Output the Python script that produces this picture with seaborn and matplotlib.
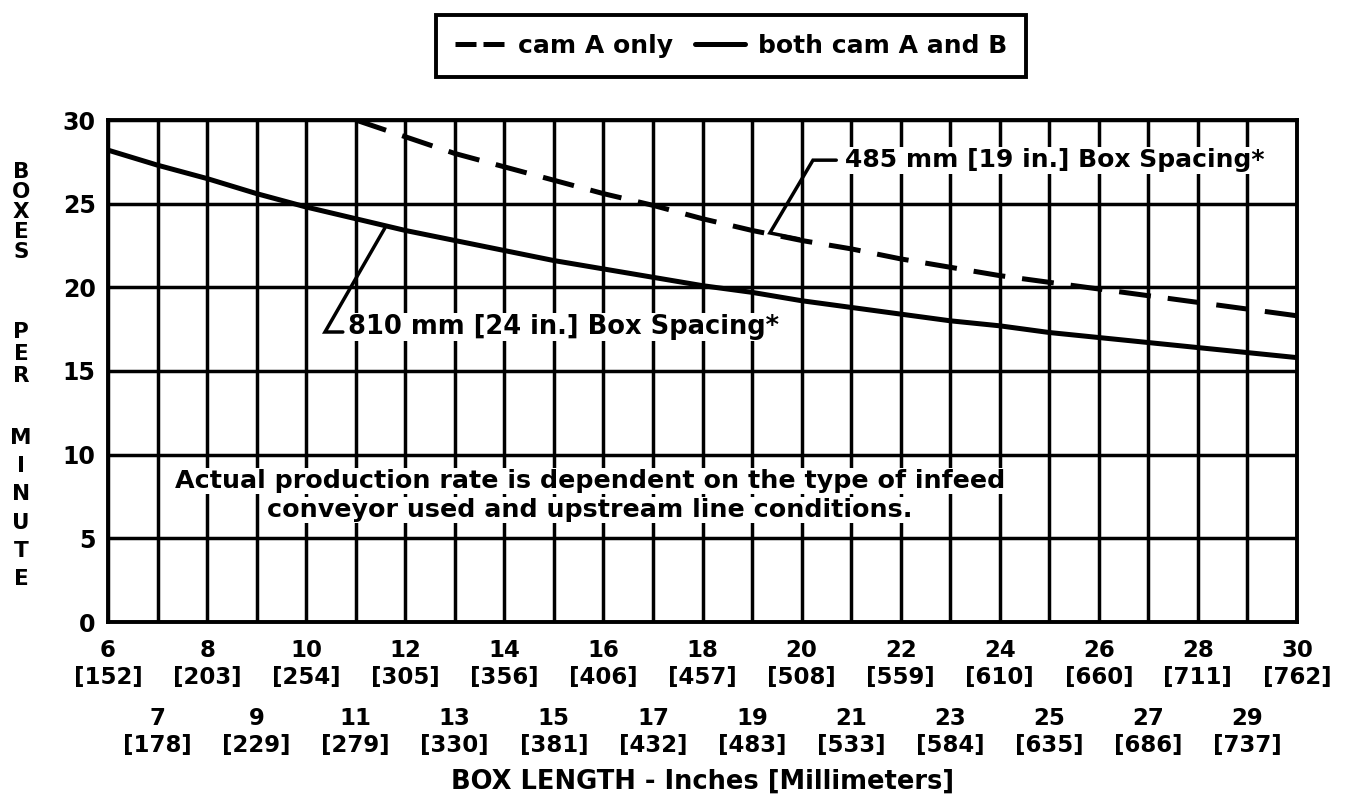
import numpy as np
import pandas as pd
import matplotlib
matplotlib.use("Agg")
import matplotlib.pyplot as plt
from matplotlib.lines import Line2D
import seaborn as sns

# ============================
# Data
# ============================
inches = list(range(6, 31))
millimeters = [152, 178, 203, 229, 254, 279, 305, 330, 356, 381, 406, 432, 457,
               483, 508, 533, 559, 584, 610, 635, 660, 686, 711, 737, 762]

both_x = list(range(6, 31))
both_rate = [28.2, 27.3, 26.5, 25.6, 24.8, 24.1, 23.4, 22.8, 22.2, 21.6, 21.1, 20.6, 20.1,
             19.7, 19.2, 18.8, 18.4, 18.0, 17.7, 17.3, 17.0, 16.7, 16.4, 16.1, 15.8]

camA_x = list(range(11, 31))
camA_rate = [30.0, 29.0, 28.0, 27.2, 26.4, 25.6, 24.9, 24.1, 23.4, 22.8,
             22.3, 21.7, 21.2, 20.7, 20.3, 19.9, 19.5, 19.1, 18.7, 18.3]

y_ticks = [0, 5, 10, 15, 20, 25, 30]

# ============================
# Style
# ============================
sns.set_style("white")
plt.rcParams['font.family'] = ['DejaVu Sans']
plt.rcParams['font.weight'] = 'bold'
plt.rcParams['text.color'] = 'black'
plt.rcParams['axes.labelcolor'] = 'black'
plt.rcParams['xtick.color'] = 'black'
plt.rcParams['ytick.color'] = 'black'

W, H = 1346, 802
fig = plt.figure(figsize=(W / 100, H / 100), dpi=100)
ax = fig.add_axes([108 / W, 1 - 622 / H, (1297 - 108) / W, (622 - 120) / H])

sns.lineplot(x=camA_x, y=camA_rate, ax=ax, color='black', lw=3.6, zorder=4)
ax.lines[-1].set_dashes((6.4, 3.4))
sns.lineplot(x=both_x, y=both_rate, ax=ax, color='black', lw=3.6, zorder=4)

ax.set_xlim(6, 30)
ax.set_ylim(0, 30)

# ============================
# Ticks: even inches on top row, odd inches on bottom row
# ============================
even = [i for i in inches if i % 2 == 0]
odd = [i for i in inches if i % 2 == 1]
mm = dict(zip(inches, millimeters))

ax.set_xticks(even)
ax.set_xticklabels([f"{i}\n[{mm[i]}]" for i in even], linespacing=1.25)
ax.set_xticks(odd, minor=True)
ax.set_xticklabels([f"{i}\n[{mm[i]}]" for i in odd], minor=True, linespacing=1.25)
ax.set_yticks(y_ticks)

ax.tick_params(axis='x', which='major', direction='out', length=8, width=2.5,
               color='black', labelcolor='black', pad=4, labelsize=16.5)
ax.tick_params(axis='x', which='minor', direction='out', length=56, width=2.5,
               color='black', labelcolor='black', pad=5, labelsize=16.5)
ax.tick_params(axis='y', direction='out', length=6, width=2.5, color='black',
               labelcolor='black', pad=3, labelsize=17)
for lab in ax.get_xticklabels(which='both') + ax.get_yticklabels():
    lab.set_fontweight('bold')

ax.grid(True, which='both', axis='x', color='black', lw=2.5)
ax.grid(True, which='major', axis='y', color='black', lw=2.5)
for s in ax.spines.values():
    s.set_color('black')
    s.set_linewidth(2.8)

ax.set_xlabel("BOX LENGTH - Inches [Millimeters]", fontsize=18.5, fontweight='bold',
              color='black', labelpad=8)
ax.set_ylabel("")

# stacked vertical y label
for word, top, step in [("BOXES", 172, 20), ("PER", 332, 22), ("MINUTE", 438, 28.2)]:
    for k, ch in enumerate(word):
        fig.text(21 / W, 1 - (top + k * step) / H, ch, ha='center', va='center',
                 fontsize=15.5, fontweight='bold', color='black')

# ============================
# Annotations
# ============================
txt_box = dict(facecolor='white', edgecolor='none', pad=1)
ax.text(20.88, 27.6, "485 mm [19 in.] Box Spacing*", ha='left', va='center',
        fontsize=18, fontweight='bold', color='black', bbox=txt_box, zorder=5)
ax.plot([20.7, 20.23, 19.36, 19.95], [27.6, 27.6, 23.25, 22.9], color='black',
        lw=2.5, zorder=5, solid_joinstyle='miter')

ax.text(10.84, 17.63, "810 mm [24 in.] Box Spacing*", ha='left', va='center',
        fontsize=18.5, fontweight='bold', color='black', bbox=txt_box, zorder=5)
ax.plot([11.59, 10.38, 10.74], [23.55, 17.33, 17.33], color='black',
        lw=2.5, zorder=5, solid_joinstyle='miter')

ax.text(15.73, 8.43, "Actual production rate is dependent on the type of infeed",
        ha='center', va='center', fontsize=18.3, fontweight='bold', color='black',
        bbox=txt_box, zorder=5)
ax.text(15.73, 6.7, "conveyor used and upstream line conditions.",
        ha='center', va='center', fontsize=18.3, fontweight='bold', color='black',
        bbox=txt_box, zorder=5)

# ============================
# Legend
# ============================
handles = [Line2D([], [], color='black', lw=3.6, dashes=(4.2, 1.4)),
           Line2D([], [], color='black', lw=3.6)]
labels = ['cam A only', 'both cam A and B']
leg = fig.legend(handles, labels, loc='center', bbox_to_anchor=(731 / W, 1 - 46 / H),
                 ncol=2, frameon=True, fancybox=False, edgecolor='black', framealpha=1,
                 handlelength=2.0, handletextpad=0.5, columnspacing=0.9,
                 borderpad=0.75, borderaxespad=0, labelcolor='black',
                 prop={'weight': 'bold', 'size': 18})
leg.get_frame().set_linewidth(2.8)

fig.savefig("out.png", dpi=100, facecolor='white')
